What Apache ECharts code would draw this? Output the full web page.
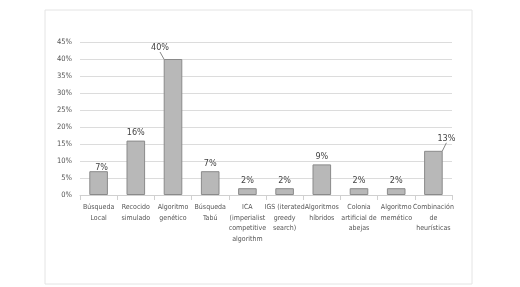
<!DOCTYPE html>
<html><head><meta charset="utf-8">
<script src="https://cdn.jsdelivr.net/npm/echarts@6/dist/echarts.min.js"></script>
<style>html,body{margin:0;padding:0;background:#fff}#c{width:520px;height:287px}</style>
</head><body><div id="c"></div>
<script>
const categories = ["Búsqueda\nLocal","Recocido\nsimulado","Algoritmo\ngenético","Búsqueda\nTabú","ICA\n(imperialist\ncompetitive\nalgorithm","IGS (iterated\ngreedy\nsearch)","Algoritmos\nhíbridos","Colonia\nartificial de\nabejas","Algoritmo\nmemético","Combinación\nde\nheurísticas"];
const values = [7, 16, 40, 7, 2, 2, 9, 2, 2, 13];
const yTicks = [0, 5, 10, 15, 20, 25, 30, 35, 40, 45];
const FONT = "'DejaVu Sans Condensed','Liberation Sans Narrow',sans-serif";
const labelShift = {0:[3,4], 2:[-13,-4], 9:[13,-5]};
const leaders = [2, 9];
const chart = echarts.init(document.getElementById('c'));
chart.setOption({
  animation:false,
  backgroundColor:'#fff',
  graphic:[{type:'rect',shape:{x:45,y:10,width:427,height:274},style:{fill:'none',stroke:'#e4e4e4',lineWidth:1}}],
  grid:{left:80,right:68,top:42,bottom:92},
  xAxis:{type:'category',data:categories,
    axisLine:{lineStyle:{color:'#d0d0d0'}},
    axisTick:{show:true,lineStyle:{color:'#d0d0d0'}},
    axisLabel:{interval:0,color:'#555',fontSize:7,lineHeight:10.5,fontFamily:FONT,margin:7}},
  yAxis:{type:'value',min:yTicks[0],max:yTicks[yTicks.length-1],interval:5,
    axisLine:{show:false},axisTick:{show:false},
    splitLine:{lineStyle:{color:'#dcdcdc'}},
    axisLabel:{formatter:v=>v+'%',color:'#555',fontSize:7.5,fontFamily:FONT,margin:8}},
  series:[{type:'bar',barWidth:'50%',
    data:values.map((v,i)=>({value:v,labelLine:{show:leaders.includes(i)}})),
    itemStyle:{color:'#b8b8b8',borderColor:'#8a8a8a',borderWidth:1},
    label:{show:true,position:'top',formatter:p=>p.value+'%',color:'#444',fontSize:9,fontFamily:FONT,distance:3},
    labelLine:{show:false,lineStyle:{color:'#888',width:1}},
    labelLayout:p=>{const s=labelShift[p.dataIndex]; return s?{dx:s[0],dy:s[1]}:{};}
  }]
});
</script></body></html>
